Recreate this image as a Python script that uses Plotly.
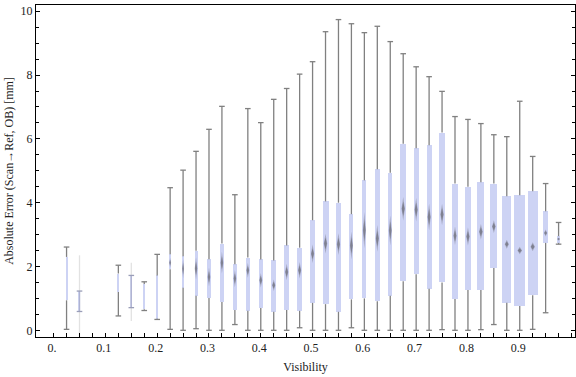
import plotly.graph_objects as go

# ---- data (Visibility bins, box-whisker statistics) ----
visibility = [0.028, 0.053, 0.128, 0.153, 0.178, 0.203, 0.228, 0.253, 0.278, 0.303,
              0.328, 0.353, 0.378, 0.403, 0.428, 0.453, 0.478, 0.503, 0.528, 0.553,
              0.578, 0.603, 0.628, 0.653, 0.678, 0.703, 0.728, 0.753, 0.778, 0.803,
              0.828, 0.853, 0.878, 0.903, 0.928, 0.953, 0.978]
whisker_low = [0.03, -0.54, 0.45, 0.29, 0.62, 0.34, 0.03, 0.0, 0.05, 0.0,
               0.0, 0.18, 0.0, 0.0, 0.0, 0.0, 0.08, 0.0, 0.0, 0.0,
               0.08, 0.0, 0.0, 0.0, 0.0, 0.0, 0.0, 0.02, 0.0, 0.0,
               0.02, 0.18, 0.0, 0.0, 0.03, 0.55, 2.70]
q1 = [0.94, 0.59, 1.20, 0.71, 0.66, 0.36, 1.91, 1.33, 1.08, 1.01,
      0.89, 0.64, 0.61, 0.70, 0.58, 0.64, 0.61, 0.86, 0.82, 0.58,
      0.97, 1.00, 0.91, 1.08, 1.54, 1.76, 1.30, 1.50, 0.98, 1.26,
      1.26, 1.95, 0.86, 0.76, 1.10, 2.74, 2.74]
median = [1.57, 0.90, 1.50, 1.20, 1.10, 1.00, 2.12, 1.93, 1.94, 1.67,
          2.12, 1.62, 1.88, 1.57, 1.41, 1.83, 1.88, 2.40, 2.72, 2.70,
          2.66, 3.14, 2.88, 3.13, 3.81, 3.78, 3.55, 3.63, 2.96, 2.94,
          3.09, 3.25, 2.70, 2.50, 2.62, 3.05, 2.86]
q3 = [2.30, 1.23, 1.78, 1.72, 1.45, 1.72, 2.38, 2.32, 2.49, 2.23,
      2.72, 2.07, 2.28, 2.22, 2.19, 2.66, 2.59, 3.45, 4.04, 4.00,
      3.64, 4.70, 5.05, 4.94, 5.85, 5.71, 5.80, 6.20, 4.60, 4.50,
      4.64, 4.60, 4.20, 4.23, 4.36, 3.73, 2.95]
whisker_high = [2.61, 2.35, 2.04, 2.12, 1.52, 2.38, 4.47, 5.02, 5.61, 6.30,
                7.02, 4.25, 6.95, 6.51, 7.24, 7.58, 8.03, 8.42, 9.36, 9.74,
                9.61, 9.33, 9.53, 9.05, 8.67, 8.26, 7.95, 7.49, 6.70, 6.61,
                6.48, 6.13, 6.07, 7.18, 5.45, 4.60, 3.38]
# box width relative to the bin spacing (Mathematica scaled the boxes by sample size)
box_rel_width = [0.08, 0.08, 0.08, 0.08, 0.08, 0.08, 0.15, 0.15, 0.23, 0.25,
                 0.27, 0.25, 0.29, 0.31, 0.39, 0.39, 0.36, 0.39, 0.46, 0.41,
                 0.31, 0.31, 0.41, 0.31, 0.46, 0.41, 0.39, 0.44, 0.39, 0.46,
                 0.54, 0.54, 0.69, 0.85, 0.77, 0.41, 0.25]
# half-height of the median confidence notch (drawn as a diamond)
notch_half = [0.0, 0.0, 0.0, 0.0, 0.0, 0.0, 0.15, 0.30, 0.35, 0.30,
              0.34, 0.27, 0.23, 0.23, 0.18, 0.26, 0.26, 0.29, 0.31, 0.34,
              0.44, 0.57, 0.42, 0.47, 0.37, 0.37, 0.42, 0.34, 0.29, 0.28,
              0.24, 0.20, 0.14, 0.12, 0.14, 0.11, 0.05]
faint_bins = [0.053, 0.153]
bin_spacing = 0.025
tick_labels = ["0.", "0.1", "0.2", "0.3", "0.4", "0.5", "0.6", "0.7", "0.8", "0.9"]
tick_values = [0.0, 0.1, 0.2, 0.3, 0.4, 0.5, 0.6, 0.7, 0.8, 0.9]

BOX = "#cdd3f4"
WHISK = "#808080"
XRANGE = [-0.031, 1.0097]
PX_PER_UNIT = 518.0

widths = [r * bin_spacing for r in box_rel_width]
normal = [i for i, v in enumerate(visibility) if v not in faint_bins]
faint = [i for i, v in enumerate(visibility) if v in faint_bins]

fig = go.Figure()

# whiskers (normal)
wx, wy = [], []
for i in normal:
    wx += [visibility[i], visibility[i], None, visibility[i], visibility[i], None]
    wy += [whisker_low[i], q1[i], None, q3[i], whisker_high[i], None]
fig.add_trace(go.Scatter(x=wx, y=wy, mode="lines", line=dict(color=WHISK, width=1.3),
                         hoverinfo="skip", showlegend=False))
# whiskers (faint, sparse bins)
fx, fy = [], []
for i in faint:
    fx += [visibility[i], visibility[i], None]
    fy += [whisker_low[i], whisker_high[i], None]
fig.add_trace(go.Scatter(x=fx, y=fy, mode="lines", line=dict(color="#e2e2e2", width=1.3),
                         hoverinfo="skip", showlegend=False))

# boxes
fig.add_trace(go.Bar(x=visibility, base=q1, y=[b - a for a, b in zip(q1, q3)],
                     width=widths, marker=dict(color=BOX, line=dict(width=0)),
                     hoverinfo="skip", showlegend=False))
# faint box segments (darker line)
sx, sy = [], []
for i in faint:
    sx += [visibility[i], visibility[i], None]
    sy += [q1[i], q3[i], None]
fig.add_trace(go.Scatter(x=sx, y=sy, mode="lines", line=dict(color="#aeb2d2", width=1.3),
                         hoverinfo="skip", showlegend=False))

# caps
cx = [visibility[i] for i in normal] * 2
cy = [whisker_low[i] for i in normal] + [whisker_high[i] for i in normal]
fig.add_trace(go.Scatter(x=cx, y=cy, mode="markers",
                         marker=dict(symbol="line-ew", size=4, line=dict(color=WHISK, width=1.3)),
                         hoverinfo="skip", showlegend=False))
fcx = [visibility[i] for i in faint] * 2
fcy = [q1[i] for i in faint] + [q3[i] for i in faint]
fig.add_trace(go.Scatter(x=fcx, y=fcy, mode="markers",
                         marker=dict(symbol="line-ew", size=4, line=dict(color="#9a9eb8", width=1.3)),
                         hoverinfo="skip", showlegend=False))

# median notch diamonds: soft outer + darker inner to mimic the blurred look
for scale, color in [(1.0, "rgba(120,120,135,0.45)"), (0.6, "rgba(100,100,110,0.6)")]:
    dx, dy = [], []
    for i, v in enumerate(visibility):
        h = notch_half[i] * scale
        if h <= 0:
            continue
        w = widths[i]
        dw = min(w / 2, 1.0 / PX_PER_UNIT + 0.125 * w) * (0.5 + 0.5 * scale)
        m = median[i]
        dx += [v - dw, v, v + dw, v, v - dw, None]
        dy += [m, m + h, m, m - h, m, None]
    fig.add_trace(go.Scatter(x=dx, y=dy, mode="lines", fill="toself",
                             fillcolor=color, line=dict(width=0),
                             hoverinfo="skip", showlegend=False))

bin_ticks = [visibility[0] + bin_spacing * j for j in range(-1, 40)]

font = dict(family="Liberation Serif, Times New Roman, serif", size=12, color="#222")
fig.update_layout(
    width=576, height=377,
    margin=dict(l=36, r=1, t=5, b=40),
    plot_bgcolor="white", paper_bgcolor="white",
    font=font,
    bargap=0,
    xaxis=dict(range=XRANGE, tickvals=tick_values, ticktext=tick_labels, ticks="",
               showgrid=False, zeroline=False, showline=True, linecolor="black",
               linewidth=1, mirror=True,
               minor=dict(tickvals=bin_ticks, ticks="inside", ticklen=4,
                          tickcolor="black", showgrid=False),
               title=dict(text="Visibility", font=font, standoff=8)),
    yaxis=dict(range=[-0.21, 10.197], tickvals=[0, 2, 4, 6, 8, 10], ticks="inside",
               ticklen=4, tickcolor="black", showgrid=False, zeroline=False,
               showline=True, linecolor="black", linewidth=1, mirror="ticks",
               minor=dict(dtick=0.5, ticks="inside", ticklen=3, tickcolor="black", showgrid=False),
               title=dict(text="Absolute Error (Scan→Ref, OB) [mm]", font=font, standoff=4)),
)

fig.write_html("out.html", config={"displayModeBar": False})
with open("out.html", "r", encoding="utf-8") as f:
    html = f.read()
html = html.replace("<head>", "<head><style>html,body{margin:0;padding:0;overflow:hidden;}</style>", 1)
with open("out.html", "w", encoding="utf-8") as f:
    f.write(html)
